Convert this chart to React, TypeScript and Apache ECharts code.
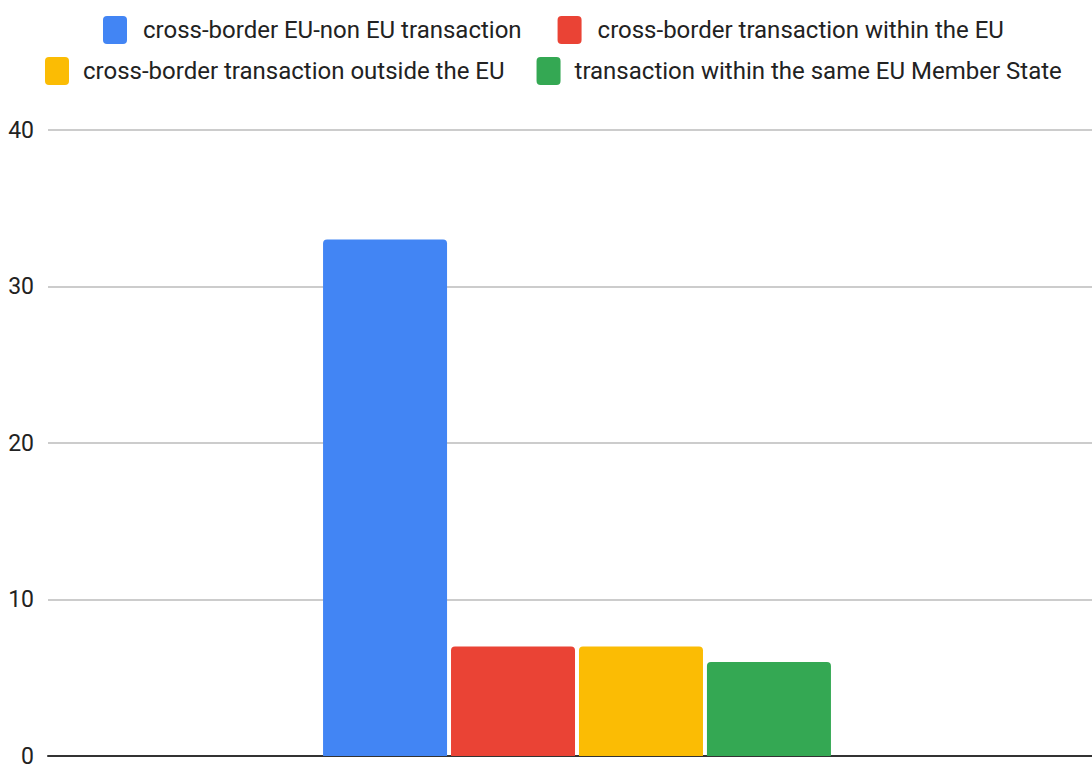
import React, { useEffect, useRef } from "react";
import * as echarts from "echarts";

const categories = [""];
const seriesNames = [
  "cross-border EU-non EU transaction",
  "cross-border transaction within the EU",
  "cross-border transaction outside the EU",
  "transaction within the same EU Member State",
];
const seriesValues = [[33], [7], [7], [6]];
const seriesColors = ["#4285F4", "#EA4335", "#FBBC04", "#34A853"];
const yTicks = { min: 0, max: 40, interval: 10 };

export default function App() {
  const ref = useRef<HTMLDivElement>(null);
  useEffect(() => {
    document.body.style.margin = "0";
    if (!ref.current) return;
    const chart = echarts.init(ref.current, null, { renderer: "svg" });
    const iconPath =
      "path://M4,0 H20 A4,4 0 0 1 24,4 V24 A4,4 0 0 1 20,28 H4 A4,4 0 0 1 0,24 V4 A4,4 0 0 1 4,0 Z";
    const legendText = (pad: number) => ({
      fontFamily: "Roboto",
      fontSize: 24,
      color: "#222",
      padding: [0, 0, 0, pad],
    });
    chart.setOption({
      animation: false,
      backgroundColor: "#fff",
      textStyle: { fontFamily: "Roboto" },
      legend: [
        {
          data: seriesNames.slice(0, 2),
          left: 98,
          top: 11,
          icon: iconPath,
          itemWidth: 24,
          itemHeight: 28,
          itemGap: 36,
          textStyle: legendText(11),
        },
        {
          data: seriesNames.slice(2, 4),
          left: 40,
          top: 52,
          icon: iconPath,
          itemWidth: 24,
          itemHeight: 28,
          itemGap: 32,
          textStyle: legendText(9),
        },
      ],
      grid: {
        left: 48,
        top: 130,
        width: 1058,
        height: 626,
        containLabel: false,
        outerBoundsMode: "none",
      },
      xAxis: {
        type: "category",
        data: categories,
        axisLine: { lineStyle: { color: "#333", width: 2 } },
        axisTick: { show: false },
        axisLabel: { show: false },
      },
      yAxis: {
        type: "value",
        min: yTicks.min,
        max: yTicks.max,
        interval: yTicks.interval,
        axisLine: { show: false },
        axisTick: { show: false },
        axisLabel: { fontFamily: "Roboto", fontSize: 23, color: "#222", margin: 14 },
        splitLine: { lineStyle: { color: "#ccc", width: 2 } },
      },
      series: seriesNames.map((name, i) => ({
        type: "bar",
        name,
        data: seriesValues[i],
        barWidth: 124,
        barGap: "3.2%",
        itemStyle: { color: seriesColors[i], borderRadius: [4, 4, 0, 0] },
      })),
    });
    return () => chart.dispose();
  }, []);
  return <div ref={ref} style={{ width: 1092, height: 764 }} />;
}
